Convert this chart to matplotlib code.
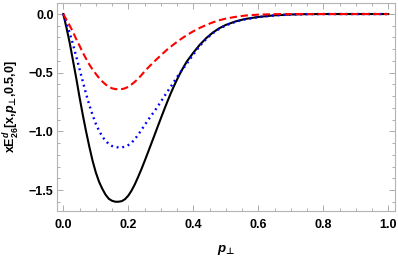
import matplotlib
matplotlib.use("Agg")
import matplotlib.pyplot as plt
from matplotlib.ticker import MultipleLocator

plt.rcParams['font.family'] = ['Liberation Sans', 'DejaVu Sans']
plt.rcParams['font.weight'] = 'bold'
plt.rcParams['axes.labelweight'] = 'bold'
plt.rcParams['mathtext.fontset'] = 'custom'
plt.rcParams['mathtext.rm'] = 'Liberation Sans:bold'
plt.rcParams['mathtext.it'] = 'Liberation Sans:italic:bold'
plt.rcParams['mathtext.bf'] = 'Liberation Sans:bold'
plt.rcParams['mathtext.sf'] = 'DejaVu Sans:bold'

# data
p_black = [0, 0.01, 0.02, 0.03, 0.04, 0.05, 0.06, 0.07, 0.08, 0.09, 0.10, 0.11,
           0.12, 0.13, 0.14, 0.15, 0.16, 0.17, 0.18, 0.19, 0.20, 0.21, 0.22,
           0.23, 0.24, 0.25, 0.26, 0.27, 0.28, 0.29, 0.30, 0.31, 0.32, 0.33,
           0.34, 0.35, 0.36, 0.37, 0.38, 0.40, 0.42, 0.44, 0.46, 0.48, 0.50,
           0.53, 0.56, 0.60, 0.65, 0.70, 0.75, 0.80, 1.00]
v_black = [0, -0.12, -0.25, -0.40, -0.55, -0.71, -0.86, -1.00, -1.13, -1.25,
           -1.35, -1.43, -1.49, -1.54, -1.575, -1.592, -1.600, -1.600, -1.595,
           -1.578, -1.548, -1.505, -1.452, -1.39, -1.325, -1.255, -1.183,
           -1.11, -1.037, -0.963, -0.89, -0.818, -0.748, -0.68, -0.617, -0.558,
           -0.503, -0.452, -0.405, -0.33, -0.262, -0.205, -0.158, -0.121,
           -0.093, -0.063, -0.042, -0.025, -0.011, -0.004, -0.001, 0, 0]

p_blue = [0, 0.01, 0.02, 0.03, 0.04, 0.05, 0.06, 0.07, 0.08, 0.09, 0.10, 0.11,
          0.12, 0.13, 0.14, 0.15, 0.16, 0.17, 0.18, 0.19, 0.20, 0.21, 0.22,
          0.23, 0.24, 0.25, 0.26, 0.27, 0.28, 0.29, 0.30, 0.31, 0.32, 0.33,
          0.34, 0.35, 0.36, 0.37, 0.38, 0.40, 0.42, 0.44, 0.46, 0.48, 0.50,
          0.53, 0.56, 0.60, 0.65, 0.70, 0.75, 0.80, 1.00]
v_blue = [0, -0.08, -0.165, -0.26, -0.365, -0.47, -0.575, -0.68, -0.775,
          -0.86, -0.935, -0.995, -1.045, -1.08, -1.108, -1.125, -1.134, -1.137,
          -1.137, -1.13, -1.117, -1.097, -1.067, -1.03, -0.99, -0.948, -0.907,
          -0.868, -0.83, -0.79, -0.748, -0.705, -0.662, -0.622, -0.58, -0.537,
          -0.497, -0.46, -0.423, -0.345, -0.272, -0.212, -0.164, -0.126,
          -0.097, -0.066, -0.045, -0.027, -0.012, -0.004, -0.001, 0, 0]

p_red = [0, 0.01, 0.02, 0.03, 0.04, 0.05, 0.06, 0.07, 0.08, 0.09, 0.10, 0.11,
         0.12, 0.13, 0.14, 0.15, 0.16, 0.17, 0.18, 0.19, 0.20, 0.21, 0.22,
         0.23, 0.24, 0.25, 0.26, 0.27, 0.28, 0.29, 0.30, 0.32, 0.34, 0.36,
         0.38, 0.40, 0.42, 0.44, 0.46, 0.48, 0.50, 0.53, 0.56, 0.60, 0.65,
         0.70, 1.00]
v_red = [0, -0.05, -0.10, -0.155, -0.215, -0.27, -0.33, -0.38, -0.43, -0.473,
         -0.51, -0.545, -0.575, -0.60, -0.62, -0.633, -0.64, -0.642, -0.64,
         -0.633, -0.62, -0.60, -0.578, -0.552, -0.522, -0.49, -0.46, -0.432,
         -0.405, -0.378, -0.352, -0.302, -0.258, -0.217, -0.18, -0.147,
         -0.118, -0.093, -0.071, -0.053, -0.039, -0.024, -0.013, -0.005,
         -0.001, 0, 0]

x_ticks = [0.0, 0.2, 0.4, 0.6, 0.8, 1.0]
y_ticks = [0.0, -0.5, -1.0, -1.5]

PERP = '\u22a5'
x_label = '$p_{\\mathsf{' + PERP + '}}$'
y_label = 'xE$_{26}^{d}$[x,$p_{\\mathsf{' + PERP + '}}$,0.5,0]'

fig = plt.figure(figsize=(3.98, 2.58), dpi=100)
ax = fig.add_axes([57/398, 47/258, 338/398, 208/258])

ax.plot(p_black, v_black, color='black', lw=1.5, solid_joinstyle='round')
ax.plot(p_blue, v_blue, color='#0000ff', lw=1.7, linestyle=(0, (0.8, 1.6)),
        dash_capstyle='butt')
ax.plot(p_red, v_red, color='#ff0000', lw=1.5, linestyle=(0, (3.5, 1.8)))

ax.set_xlim(-0.0194, 1.0206)
ax.set_ylim(-1.679, 0.094)
ax.set_xticks(x_ticks)
ax.set_yticks(y_ticks)
ax.set_xticklabels([f"{t:.1f}" for t in x_ticks])
ax.set_yticklabels([f"{t:.1f}".replace('-', '\u2212') for t in y_ticks])
ax.xaxis.set_minor_locator(MultipleLocator(0.05))
ax.yaxis.set_minor_locator(MultipleLocator(0.1))

for s in ax.spines.values():
    s.set_color('#b4b4b4')
    s.set_linewidth(0.8)
ax.tick_params(which='both', direction='in', top=True, right=True,
               color='#a0a0a0', width=0.6, labelsize=9)
ax.tick_params(axis='x', which='both', pad=5.5)
ax.tick_params(axis='y', which='both', pad=2.5)
ax.tick_params(which='major', length=4)
ax.tick_params(which='minor', length=2)
for lab in ax.get_xticklabels() + ax.get_yticklabels():
    lab.set_fontweight('bold')

ax.set_xlabel(x_label, fontsize=9.5, labelpad=9, fontweight='bold')
ax.set_ylabel(y_label, fontsize=9, labelpad=5, fontweight='bold')

fig.savefig('out.png', dpi=100)
